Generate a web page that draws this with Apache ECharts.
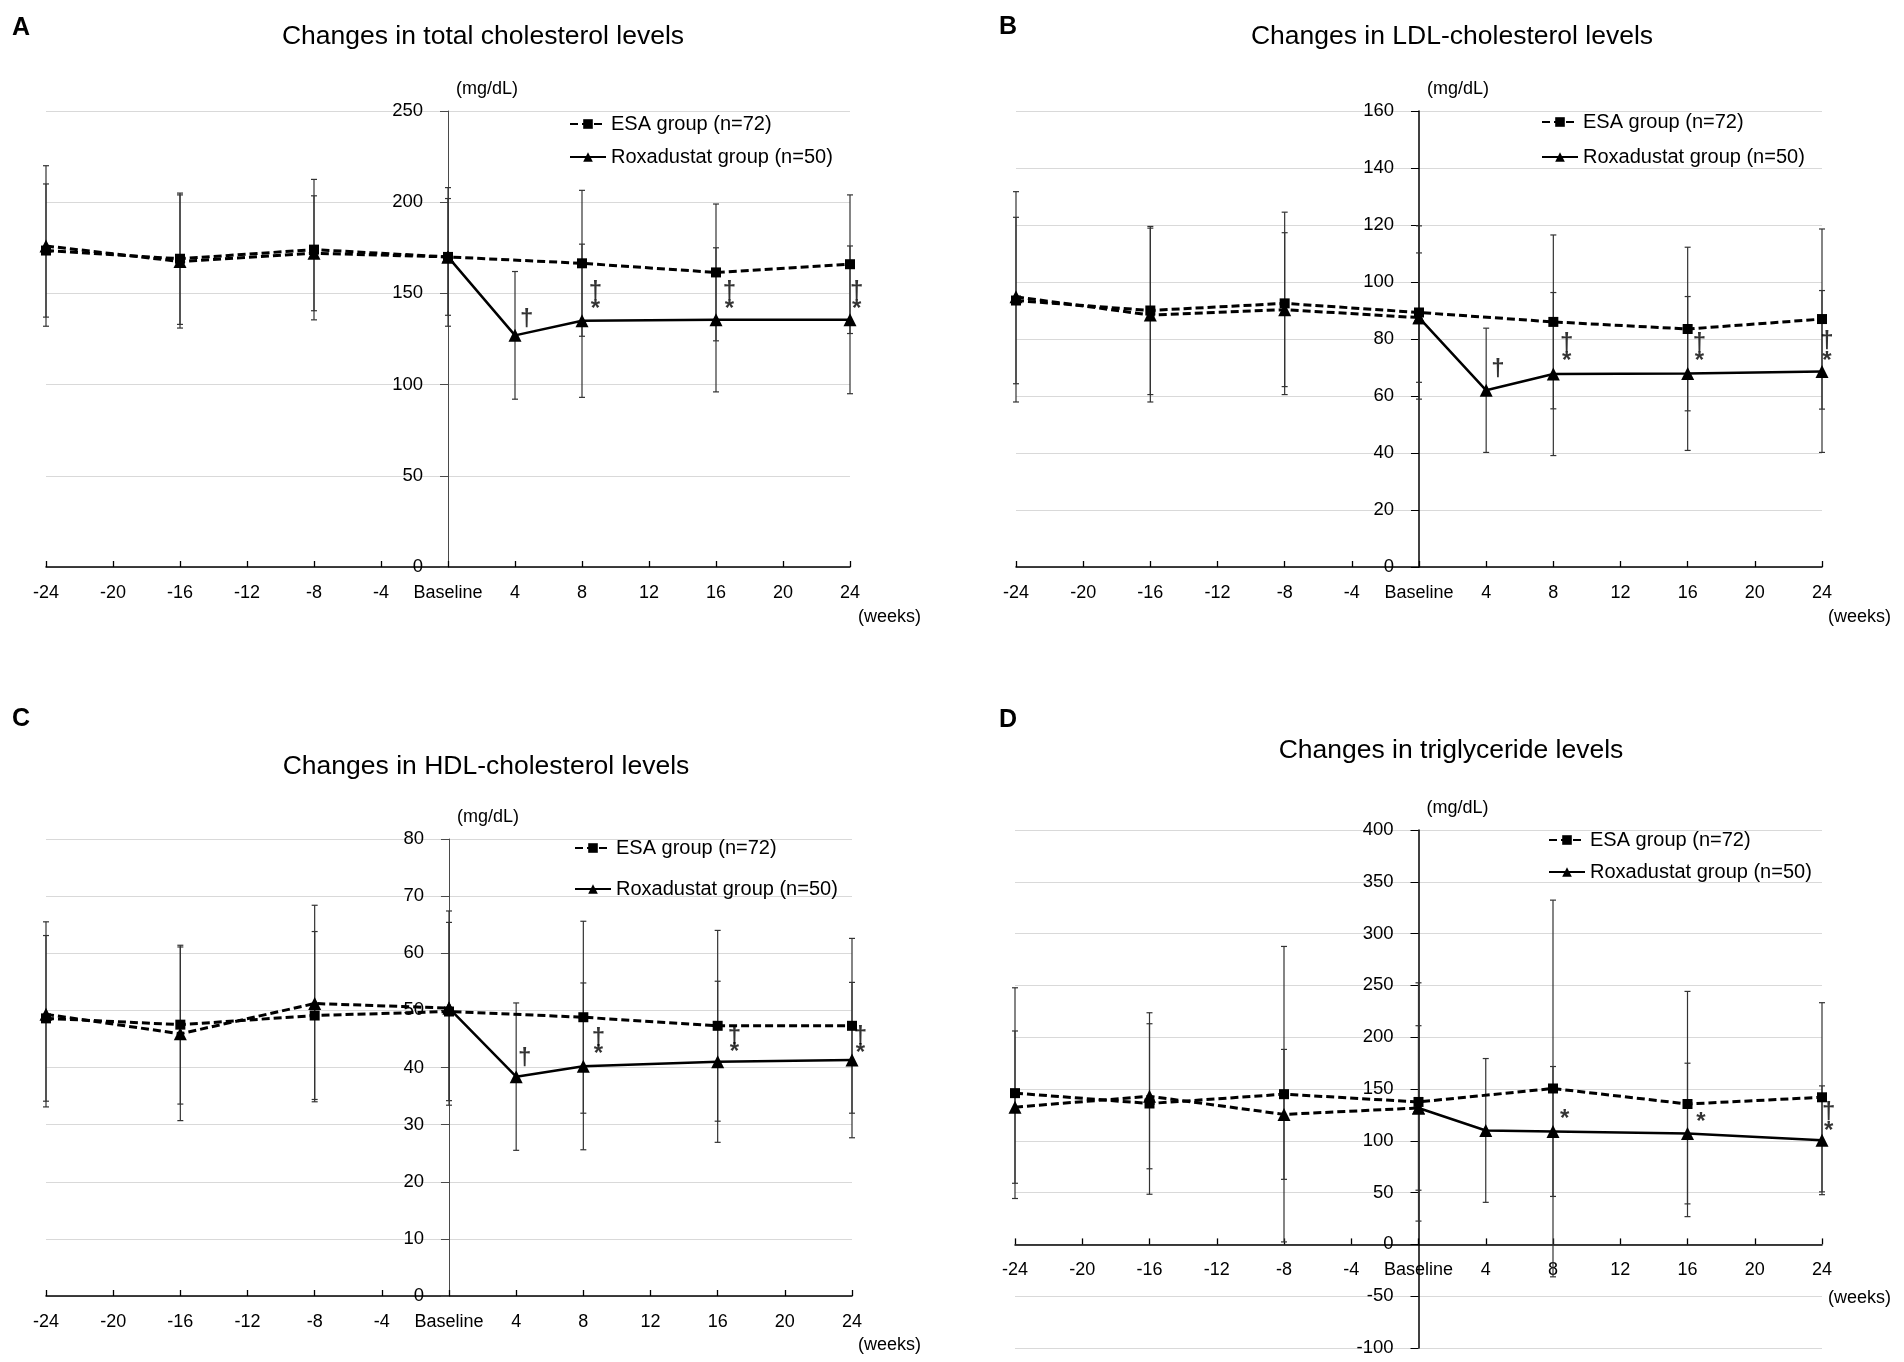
<!DOCTYPE html>
<html>
<head>
<meta charset="utf-8">
<script src="https://cdn.jsdelivr.net/npm/echarts@6/dist/echarts.min.js"></script>
<style>html,body{margin:0;padding:0;background:#fff}#c{width:1904px;height:1362px}</style>
</head>
<body>
<div id="c"></div>
<script>
// ---- data ----
const weeksESA  = [-24, -16, -8, 0, 8, 16, 24];
const weeksRoxa = [-24, -16, -8, 0, 4, 8, 16, 24];
const xMin = -24, xMax = 24, xStep = 4;
const xTickLabels = {'0': 'Baseline'};

// A: total cholesterol
const tcESA     = [173.5, 169, 174, 170, 166.5, 161.5, 166];
const tcESASd   = [36.5, 36, 38.5, 38, 40, 37.5, 38];
const tcRoxa    = [176, 167.5, 172, 170, 127, 135, 135.5, 135.5];
const tcRoxaSd  = [44, 36.5, 31.5, 32, 35, 42, 39.5, 40.5];
const tcMarks   = [[4.7,136,'†'],[8.8,151,'†'],[8.8,141,'*'],[16.8,151,'†'],[16.8,141,'*'],[24.4,151,'†'],[24.4,141,'*']];

// B: LDL cholesterol
const ldlESA    = [93.5, 90, 92.5, 89.3, 86, 83.5, 87];
const ldlESASd  = [29.2, 29.5, 32, 30.4, 30.5, 28.7, 31.6];
const ldlRoxa   = [94.8, 88.4, 90.3, 87.5, 62, 67.7, 67.9, 68.6];
const ldlRoxaSd = [36.9, 30.5, 27, 22.7, 21.8, 28.6, 27, 28.4];
const ldlMarks  = [[4.7,69.3,'†'],[8.8,78.4,'†'],[8.8,72.3,'*'],[16.7,78.4,'†'],[16.7,72.3,'*'],[24.3,79,'†'],[24.3,72.3,'*']];

// C: HDL cholesterol
const hdlESA    = [48.6, 47.5, 49.1, 49.8, 48.8, 47.3, 47.3];
const hdlESASd  = [14.5, 13.9, 14.7, 15.6, 16.8, 16.7, 15.3];
const hdlRoxa   = [49.3, 45.9, 51.2, 50.4, 38.4, 40.2, 41, 41.3];
const hdlRoxaSd = [16.2, 15.2, 17.2, 17, 12.9, 14.6, 14.1, 13.6];
const hdlMarks  = [[4.5,41.6,'†'],[8.9,45.1,'†'],[8.9,42.3,'*'],[17,45.5,'†'],[17,42.6,'*'],[24.5,45.5,'†'],[24.5,42.5,'*']];

// D: triglycerides
const tgESA     = [146, 136, 145, 137.5, 150.5, 135.5, 142];
const tgESASd   = [101.7, 87.6, 142.6, 115, 181.8, 108.7, 91.3];
const tgRoxa    = [132.5, 143, 125.5, 131.7, 110, 109, 107, 100.5];
const tgRoxaSd  = [73.5, 70, 62.7, 79.4, 69.4, 62.7, 67.9, 52.5];
const tgMarks   = [[8.7,120.4,'*'],[16.8,117.9,'*'],[24.4,127.5,'†'],[24.4,108.7,'*']];

const panelTitles = ['Changes in total cholesterol levels','Changes in LDL-cholesterol levels','Changes in HDL-cholesterol levels','Changes in triglyceride levels'];
const panelLetters = ['A','B','C','D'];
const yMin = [0, 0, 0, -100];
const yMax = [250, 160, 80, 400];
const yStep = [50, 20, 10, 50];

const ESA_NAME = 'ESA group (n=72)';
const ROXA_NAME = 'Roxadustat group (n=50)';

// ---- layout ----
const FONT = "'Liberation Sans', Arial, sans-serif";
const grids = [
  {left: 46,   top: 111, width: 804, height: 456},
  {left: 1016, top: 111, width: 806, height: 456},
  {left: 46,   top: 839, width: 806, height: 457},
  {left: 1015, top: 830, width: 807, height: 518}
];
const yAxisColor = ['#4a4a4a', '#000', '#4a4a4a', '#000'];
const yAxisWidth = [1, 1.5, 1, 1.5];
const legendPos = [
  {left: 569,  top: 114, itemGap: 13},
  {left: 1541, top: 112, itemGap: 15},
  {left: 574,  top: 838, itemGap: 21},
  {left: 1548, top: 830, itemGap: 12}
];
const titlePos = [[483, 37], [1452, 37], [486, 767], [1451, 751]];
const letterPos = [[12, 28], [999, 27], [12, 719], [999, 720]];
const weeksPos = [[858, 617], [1828, 617], [858, 1345], [1828, 1298]];

const panels = [
  [tcESA, tcESASd, tcRoxa, tcRoxaSd, tcMarks],
  [ldlESA, ldlESASd, ldlRoxa, ldlRoxaSd, ldlMarks],
  [hdlESA, hdlESASd, hdlRoxa, hdlRoxaSd, hdlMarks],
  [tgESA, tgESASd, tgRoxa, tgRoxaSd, tgMarks]
];

function errRender(params, api) {
  const x = api.value(0), lo = api.value(1), hi = api.value(2);
  const p1 = api.coord([x, lo]), p2 = api.coord([x, hi]);
  const c = 3;
  const st = {stroke: '#333', lineWidth: 1.2};
  return {type: 'group', children: [
    {type: 'line', shape: {x1: p1[0], y1: p1[1], x2: p2[0], y2: p2[1]}, style: st},
    {type: 'line', shape: {x1: p1[0]-c, y1: p1[1], x2: p1[0]+c, y2: p1[1]}, style: st},
    {type: 'line', shape: {x1: p2[0]-c, y1: p2[1], x2: p2[0]+c, y2: p2[1]}, style: st}
  ]};
}

const xAxes = [], yAxes = [], series = [], legends = [], graphics = [];
panels.forEach((pd, i) => {
  const [esa, esaSd, roxa, roxaSd, marks] = pd;
  const g = grids[i];
  // place each axis where the other axis has value 0
  const xAxisOffset = -((0 - yMin[i]) / (yMax[i] - yMin[i])) * g.height;
  const yAxisOffset = -((0 - xMin) / (xMax - xMin)) * g.width;
  xAxes.push({
    gridIndex: i, type: 'value', min: xMin, max: xMax, interval: xStep,
    position: 'bottom', offset: xAxisOffset,
    axisLine: {onZero: false, lineStyle: {color: '#000', width: 1.5}},
    axisTick: {inside: true, length: 6, lineStyle: {color: '#000', width: 1.3}},
    axisLabel: {color: '#000', fontSize: 18, fontFamily: FONT, margin: 17,
      formatter: v => (xTickLabels[String(v)] !== undefined ? xTickLabels[String(v)] : String(v))},
    splitLine: {show: false}
  });
  yAxes.push({
    gridIndex: i, type: 'value', min: yMin[i], max: yMax[i], interval: yStep[i],
    position: 'left', offset: yAxisOffset,
    name: '(mg/dL)', nameLocation: 'end', nameGap: 22,
    nameTextStyle: {color: '#000', fontSize: 18, fontFamily: FONT, align: 'left', verticalAlign: 'middle', padding: [0, 0, 0, 8]},
    axisLine: {show: true, onZero: false, lineStyle: {color: yAxisColor[i], width: yAxisWidth[i]}},
    axisTick: {show: true, inside: false, length: 8, lineStyle: {color: yAxisColor[i], width: 1}},
    axisLabel: {color: '#000', fontSize: 18.5, fontFamily: FONT, margin: 25},
    splitLine: {show: true, lineStyle: {color: '#d9d9d9', width: 1}}
  });
  const esaData = weeksESA.map((w, k) => [w, esa[k]]);
  const roxaData = weeksRoxa.map((w, k) => [w, roxa[k]]);
  const esaErr = weeksESA.map((w, k) => [w, esa[k] - esaSd[k], esa[k] + esaSd[k]]);
  const roxaErr = weeksRoxa.map((w, k) => [w, roxa[k] - roxaSd[k], roxa[k] + roxaSd[k]]);
  series.push({
    type: 'custom', name: 'errESA' + i, xAxisIndex: i, yAxisIndex: i, data: esaErr,
    encode: {x: 0, y: [1, 2]}, renderItem: errRender, z: 1, silent: true
  });
  series.push({
    type: 'custom', name: 'errRoxa' + i, xAxisIndex: i, yAxisIndex: i, data: roxaErr,
    encode: {x: 0, y: [1, 2]}, renderItem: errRender, z: 1, silent: true
  });
  series.push({
    type: 'line', name: ESA_NAME, xAxisIndex: i, yAxisIndex: i, data: esaData,
    symbol: 'rect', symbolSize: 10, showAllSymbol: true,
    lineStyle: {color: '#000', width: 3, type: [8, 4]},
    itemStyle: {color: '#000'}, z: 3
  });
  series.push({
    type: 'line', name: 'Roxa pre ' + i, xAxisIndex: i, yAxisIndex: i,
    data: roxaData.filter(d => d[0] <= 0),
    symbol: 'triangle', symbolSize: 13,
    lineStyle: {color: '#000', width: 3, type: [8, 4]},
    itemStyle: {color: '#000'}, z: 3
  });
  series.push({
    type: 'line', name: ROXA_NAME, xAxisIndex: i, yAxisIndex: i,
    data: roxaData.filter(d => d[0] >= 0),
    symbol: 'triangle', symbolSize: 13,
    lineStyle: {color: '#000', width: 2.5, type: 'solid'},
    itemStyle: {color: '#000'}, z: 4
  });
  series.push({
    type: 'scatter', name: 'marks' + i, xAxisIndex: i, yAxisIndex: i,
    data: marks.map(m => ({name: m[2], value: [m[0], m[1]]})),
    symbolSize: 1, clip: false, silent: true, z: 5,
    itemStyle: {color: 'rgba(0,0,0,0)'},
    label: {show: true, position: 'inside', formatter: '{b}', color: '#000', fontSize: 24, fontWeight: 'bold', fontFamily: FONT}
  });
  legends.push({
    orient: 'vertical', left: legendPos[i].left, top: legendPos[i].top, itemGap: legendPos[i].itemGap,
    padding: 0, itemWidth: 36, itemHeight: 12,
    data: [ESA_NAME, ROXA_NAME],
    textStyle: {color: '#000', fontSize: 20, fontFamily: FONT},
    selectedMode: false
  });
  graphics.push({type: 'text', x: titlePos[i][0], y: titlePos[i][1],
    style: {text: panelTitles[i], font: '26.5px ' + FONT, fill: '#000', textAlign: 'center', textVerticalAlign: 'middle'}});
  graphics.push({type: 'text', x: letterPos[i][0], y: letterPos[i][1],
    style: {text: panelLetters[i], font: 'bold 25px ' + FONT, fill: '#000', textAlign: 'left', textVerticalAlign: 'middle'}});
  graphics.push({type: 'text', x: weeksPos[i][0], y: weeksPos[i][1],
    style: {text: '(weeks)', font: '18px ' + FONT, fill: '#000', textAlign: 'left', textVerticalAlign: 'middle'}});
});

const chart = echarts.init(document.getElementById('c'));
chart.setOption({
  backgroundColor: '#fff',
  animation: false,
  grid: grids,
  xAxis: xAxes,
  yAxis: yAxes,
  legend: legends,
  series: series,
  graphic: graphics
});
</script>
</body>
</html>
